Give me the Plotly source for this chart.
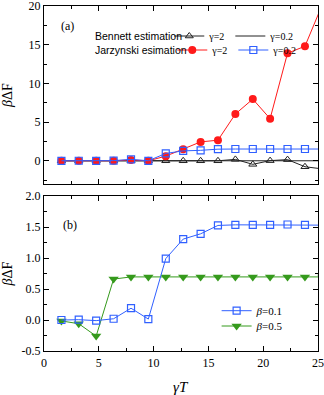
import plotly.graph_objects as go

# ---- data ----
gamma_T = [1.59, 3.17, 4.76, 6.35, 7.94, 9.52, 11.11, 12.70, 14.29, 15.87,
           17.46, 19.05, 20.63, 22.22, 23.81, 25.40]

# panel (a)
bennett_g2 = [0, 0, 0, 0, 0, 0, 0, 0, 0, 0, 0.18, -0.46, 0.02, 0.15, -0.77, -1.05]
bennett_g02 = [0, 0, 0, 0, 0, 0, 0, 0, 0, 0, 0, 0, 0, 0, 0, 0]
jarz_g2 = [0, 0, 0, 0, 0.1, 0, 0.6, 1.5, 2.44, 2.66, 6.04, 7.97, 5.44, 13.9, 14.8, 20.2]
jarz_g02 = [0, 0.005, -0.01, 0.02, 0.18, 0.0, 0.95, 1.28, 1.35, 1.5, 1.52, 1.52, 1.52, 1.52, 1.52, 1.52]

# panel (b)
beta01 = [0.0, 0.005, -0.01, 0.02, 0.19, 0.015, 0.99, 1.305, 1.39, 1.525, 1.535,
          1.535, 1.535, 1.54, 1.535, 1.53]
beta05 = [-0.015, -0.06, -0.26, 0.66, 0.695, 0.695, 0.695, 0.695, 0.695, 0.695,
          0.695, 0.695, 0.695, 0.695, 0.695, 0.695]

x_ticks = [0, 5, 10, 15, 20, 25]
ya_ticks = [0, 5, 10, 15, 20]
yb_ticks = [-0.5, 0.0, 0.5, 1.0, 1.5, 2.0]
yb_ticklabels = ["-0.5", "0.0", "0.5", "1.0", "1.5", "2.0"]

SERIF = "Liberation Serif"
SANS = "Liberation Sans"
RED = "#ff1a1a"
BLUE = "#3060ff"
GREEN = "#359a1c"

fig = go.Figure()

fig.add_trace(go.Scatter(x=gamma_T, y=bennett_g02, mode="lines", name="γ=0.2",
                         line=dict(color="#222222", width=1), legend="legend",
                         legendrank=2, xaxis="x", yaxis="y"))
fig.add_trace(go.Scatter(x=gamma_T, y=bennett_g2, mode="lines+markers", name="γ=2",
                         line=dict(color="#222222", width=1),
                         marker=dict(symbol="triangle-up-open", size=7, color="#222222",
                                     line=dict(width=1)),
                         legend="legend", legendrank=1, xaxis="x", yaxis="y"))
fig.add_trace(go.Scatter(x=gamma_T, y=jarz_g2, mode="lines+markers", name="γ=2",
                         line=dict(color=RED, width=1),
                         marker=dict(symbol="circle", size=8, color=RED),
                         legend="legend2", legendrank=1, xaxis="x", yaxis="y"))
fig.add_trace(go.Scatter(x=gamma_T, y=jarz_g02, mode="lines+markers", name="γ=0.2",
                         line=dict(color=BLUE, width=1),
                         marker=dict(symbol="square-open", size=7, color=BLUE,
                                     line=dict(width=1.2)),
                         legend="legend2", legendrank=2, xaxis="x", yaxis="y"))

fig.add_trace(go.Scatter(x=gamma_T, y=beta05, mode="lines+markers", name="<i>β</i>=0.5",
                         line=dict(color=GREEN, width=1),
                         marker=dict(symbol="triangle-down", size=9, color=GREEN),
                         legend="legend4", xaxis="x2", yaxis="y2"))
fig.add_trace(go.Scatter(x=gamma_T, y=beta01, mode="lines+markers", name="<i>β</i>=0.1",
                         line=dict(color=BLUE, width=1),
                         marker=dict(symbol="square-open", size=7, color=BLUE,
                                     line=dict(width=1.2)),
                         legend="legend3", xaxis="x2", yaxis="y2"))

axis_common = dict(showline=True, linecolor="black", linewidth=1.2, mirror="allticks",
                   ticks="inside", ticklen=5, tickwidth=1, tickcolor="black",
                   showgrid=False, zeroline=False, automargin=False,
                   ticklabeloverflow="allow",
                   tickfont=dict(family=SERIF, size=12, color="black"),
                   minor=dict(ticks="inside", ticklen=2.5, tickwidth=1, tickcolor="black",
                              showgrid=False))

T, B = 6, 44
PH = 395 - T - B
top_frac = (395 - B - 184) / PH
bot_frac = (395 - B - 196) / PH


def ypaper(px):
    return (395 - B - px) / PH


def xpaper(px):
    return (px - 43.5) / (324 - 43.5 - 6)


fig.update_layout(
    width=324, height=395,
    margin=dict(l=43.5, r=6, t=T, b=B, autoexpand=False),
    paper_bgcolor="white", plot_bgcolor="white",
    font=dict(family=SERIF, color="black"),
    xaxis=dict(axis_common, range=[0, 25], tickvals=x_ticks, showticklabels=False,
               anchor="y", domain=[0, 1], minor_dtick=2.5),
    yaxis=dict(axis_common, range=[-3, 20], tickvals=ya_ticks, anchor="x",
               domain=[top_frac, 1], minor_dtick=2.5,
               title=dict(text="<i>β</i>ΔF", font=dict(family=SERIF, size=14),
                          standoff=14)),
    xaxis2=dict(axis_common, range=[0, 25], tickvals=x_ticks, anchor="y2",
                domain=[0, 1], minor_dtick=2.5, matches="x"),
    yaxis2=dict(axis_common, range=[-0.5, 2.0], tickvals=yb_ticks,
                ticktext=yb_ticklabels, anchor="x2", domain=[0, bot_frac],
                minor_dtick=0.25,
                title=dict(text="<i>β</i>ΔF", font=dict(family=SERIF, size=14),
                           standoff=9)),
    legend=dict(orientation="h", x=xpaper(169), y=ypaper(36), xanchor="left",
                yanchor="middle", bgcolor="rgba(0,0,0,0)",
                font=dict(family=SERIF, size=10), itemwidth=30),
    legend2=dict(orientation="h", x=xpaper(172), y=ypaper(50), xanchor="left",
                 yanchor="middle", bgcolor="rgba(0,0,0,0)",
                 font=dict(family=SERIF, size=10), itemwidth=30),
    legend3=dict(x=0.63, y=ypaper(310.7), xanchor="left", yanchor="middle",
                 bgcolor="rgba(0,0,0,0)", font=dict(family=SERIF, size=11)),
    legend4=dict(x=0.63, y=ypaper(326), xanchor="left", yanchor="middle",
                 bgcolor="rgba(0,0,0,0)", font=dict(family=SERIF, size=11)),
    annotations=[
        dict(text="(a)", x=0.085, y=ypaper(26), xref="x domain", yref="paper",
             xanchor="center", yanchor="middle",
             showarrow=False, font=dict(family=SERIF, size=12)),
        dict(text="(b)", x=0.095, y=ypaper(225), xref="x2 domain", yref="paper",
             xanchor="center", yanchor="middle",
             showarrow=False, font=dict(family=SERIF, size=12)),
        dict(text="Bennett estimation", x=xpaper(93), y=ypaper(36), xref="paper",
             yref="paper", xanchor="left", yanchor="middle", showarrow=False,
             font=dict(family=SANS, size=10.5)),
        dict(text="Jarzynski esimation", x=xpaper(93), y=ypaper(50), xref="paper",
             yref="paper", xanchor="left", yanchor="middle", showarrow=False,
             font=dict(family=SANS, size=10.5)),
        dict(text="<i>γT</i>", x=0.5, y=ypaper(387), xref="x2 domain", yref="paper",
             xanchor="center", yanchor="middle", showarrow=False,
             font=dict(family=SERIF, size=15)),
    ],
)

fig.write_html("out.html", config={"displayModeBar": False},
               post_script="document.body.style.margin='0';")
